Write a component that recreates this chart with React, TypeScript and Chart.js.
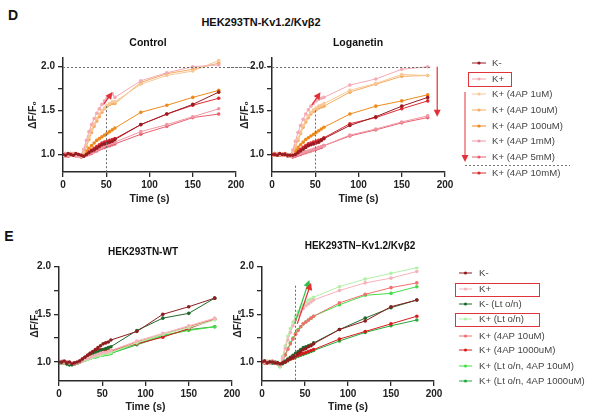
import React, { useEffect, useRef } from "react";
import { Chart, registerables } from "chart.js";
Chart.register(...registerables);

const FONT = '"Liberation Sans", Arial, Helvetica, sans-serif';

// shared time points (s)
const T = [0, 3, 6, 9, 12, 15, 18, 21, 24, 27, 30, 33, 36, 39, 42, 45, 48, 51, 54, 57, 60, 90, 120, 150, 180];
const X_TICKS = [0, 50, 100, 150, 200];
const Y_TICKS = [1.0, 1.25, 1.5, 1.75, 2.0];
const Y_LABELED = [1.0, 1.5, 2.0];

// ---------- Panel D ----------
const D_LABELS = ["K-", "K+", "K+ (4AP 1uM)", "K+ (4AP 10uM)", "K+ (4AP 100uM)", "K+ (4AP 1mM)", "K+ (4AP 5mM)", "K+ (4AP 10mM)"];
const D_COLORS = ["#9b1b22", "#f3aab3", "#f8c896", "#f5ab62", "#ee8a1a", "#ef97a4", "#e8606e", "#dc2a34"];

const CTRL_KM = [1.00, 0.99, 1.01, 1.00, 0.99, 1.01, 1.00, 0.99, 0.98, 1.00, 1.02, 1.04, 1.05, 1.07, 1.09, 1.11, 1.12, 1.13, 1.14, 1.15, 1.17, 1.34, 1.46, 1.57, 1.71];
const CTRL_KP = [1.00, 1.01, 0.99, 1.00, 1.01, 0.99, 0.98, 0.99, 1.06, 1.16, 1.26, 1.34, 1.41, 1.47, 1.52, 1.57, 1.61, 1.64, 1.67, 1.69, 1.65, 1.84, 1.93, 2.00, 2.02];
const CTRL_1U = [0.99, 1.00, 1.01, 0.99, 1.00, 1.00, 0.99, 0.98, 1.03, 1.11, 1.20, 1.28, 1.35, 1.41, 1.46, 1.50, 1.53, 1.56, 1.58, 1.60, 1.60, 1.80, 1.90, 1.95, 2.07];
const CTRL_10U = [1.00, 0.99, 1.00, 1.01, 0.99, 1.00, 1.00, 0.99, 1.02, 1.09, 1.17, 1.25, 1.32, 1.38, 1.43, 1.48, 1.52, 1.55, 1.57, 1.58, 1.58, 1.82, 1.92, 1.97, 2.04];
const CTRL_100U = [1.00, 1.00, 0.99, 1.01, 1.00, 0.99, 1.00, 0.99, 1.01, 1.04, 1.07, 1.10, 1.13, 1.16, 1.18, 1.20, 1.22, 1.24, 1.26, 1.28, 1.30, 1.48, 1.56, 1.65, 1.73];
const CTRL_1M = [1.00, 0.98, 1.00, 1.01, 0.99, 0.98, 0.99, 0.98, 0.98, 0.99, 1.00, 1.02, 1.04, 1.05, 1.07, 1.08, 1.10, 1.11, 1.12, 1.13, 1.14, 1.26, 1.34, 1.43, 1.52];
const CTRL_5M = [0.99, 1.00, 0.98, 0.99, 1.00, 0.99, 0.98, 0.97, 0.98, 0.99, 1.00, 1.01, 1.03, 1.04, 1.06, 1.07, 1.08, 1.09, 1.10, 1.11, 1.12, 1.23, 1.32, 1.42, 1.46];
const CTRL_10M = [1.00, 1.01, 0.99, 1.00, 1.01, 1.00, 0.99, 0.98, 0.99, 1.01, 1.03, 1.05, 1.07, 1.09, 1.11, 1.13, 1.14, 1.15, 1.16, 1.17, 1.18, 1.34, 1.46, 1.56, 1.64];

const LOG_KM = [1.00, 1.00, 0.99, 1.01, 1.00, 1.00, 0.99, 0.99, 0.99, 1.00, 1.02, 1.04, 1.06, 1.08, 1.10, 1.11, 1.12, 1.13, 1.14, 1.16, 1.18, 1.33, 1.43, 1.55, 1.65];
const LOG_KP = [1.00, 0.99, 1.01, 1.00, 1.00, 0.99, 0.99, 0.98, 1.05, 1.15, 1.25, 1.33, 1.40, 1.46, 1.51, 1.55, 1.58, 1.61, 1.63, 1.64, 1.65, 1.79, 1.86, 1.97, 2.00];
const LOG_1U = [1.00, 1.00, 1.00, 1.01, 0.99, 1.00, 0.99, 0.98, 1.02, 1.10, 1.18, 1.26, 1.33, 1.39, 1.44, 1.48, 1.51, 1.53, 1.55, 1.56, 1.58, 1.73, 1.81, 1.91, 1.90];
const LOG_10U = [0.99, 1.00, 1.01, 1.00, 1.00, 0.99, 1.00, 0.98, 1.01, 1.08, 1.16, 1.24, 1.31, 1.37, 1.42, 1.46, 1.49, 1.51, 1.53, 1.54, 1.55, 1.71, 1.80, 1.89, 1.90];
const LOG_100U = [1.00, 1.01, 1.00, 0.99, 1.00, 1.00, 0.99, 0.98, 1.01, 1.04, 1.08, 1.11, 1.14, 1.17, 1.19, 1.21, 1.23, 1.25, 1.27, 1.29, 1.31, 1.46, 1.55, 1.61, 1.68];
const LOG_1M = [1.00, 0.99, 1.00, 1.00, 0.99, 1.00, 0.99, 0.98, 0.98, 0.99, 1.00, 1.01, 1.02, 1.03, 1.04, 1.05, 1.06, 1.07, 1.08, 1.09, 1.10, 1.22, 1.29, 1.37, 1.44];
const LOG_5M = [0.99, 1.00, 1.00, 0.99, 1.00, 0.99, 0.98, 0.98, 0.97, 0.98, 0.99, 1.00, 1.01, 1.02, 1.03, 1.04, 1.05, 1.06, 1.07, 1.08, 1.10, 1.21, 1.28, 1.36, 1.42];
const LOG_10M = [1.00, 1.01, 1.00, 1.00, 1.00, 1.01, 0.99, 0.99, 1.00, 1.02, 1.04, 1.06, 1.08, 1.10, 1.12, 1.13, 1.14, 1.15, 1.16, 1.17, 1.19, 1.35, 1.42, 1.52, 1.61];

// ---------- Panel E ----------
const E_LABELS = ["K-", "K+", "K- (Lt o/n)", "K+ (Lt o/n)", "K+ (4AP 10uM)", "K+ (4AP 1000uM)", "K+ (Lt o/n, 4AP 10uM)", "K+ (Lt o/n, 4AP 1000uM)"];
const E_COLORS = ["#8e1d20", "#f5b3ba", "#1f6a2b", "#b2f0a8", "#f07070", "#d61e1e", "#45dd45", "#28a83c"];

const WT_KM = [1.00, 1.00, 1.01, 0.99, 1.00, 0.98, 0.99, 1.00, 1.01, 1.03, 1.05, 1.07, 1.09, 1.11, 1.13, 1.15, 1.17, 1.19, 1.20, 1.21, 1.23, 1.32, 1.50, 1.58, 1.67];
const WT_KP = [1.00, 1.01, 1.00, 1.00, 0.99, 0.99, 0.98, 0.99, 1.00, 1.01, 1.03, 1.04, 1.05, 1.06, 1.07, 1.08, 1.09, 1.10, 1.10, 1.11, 1.12, 1.22, 1.30, 1.38, 1.46];
const WT_KM_LT = [0.99, 1.00, 1.00, 0.98, 0.97, 0.97, 0.98, 0.99, 1.00, 1.02, 1.04, 1.06, 1.08, 1.09, 1.10, 1.11, 1.12, 1.13, 1.14, 1.15, 1.16, 1.33, 1.46, 1.51, 1.67];
const WT_KP_LT = [1.00, 1.00, 0.99, 0.99, 0.98, 0.98, 0.99, 0.99, 1.00, 1.01, 1.02, 1.03, 1.04, 1.05, 1.06, 1.07, 1.07, 1.08, 1.09, 1.09, 1.10, 1.20, 1.29, 1.36, 1.44];
const WT_10U = [1.00, 0.99, 1.00, 1.00, 0.99, 0.98, 0.98, 0.99, 1.00, 1.02, 1.03, 1.04, 1.05, 1.06, 1.07, 1.08, 1.09, 1.10, 1.10, 1.11, 1.11, 1.21, 1.29, 1.37, 1.45];
const WT_1000U = [1.00, 1.00, 0.99, 1.00, 0.98, 0.98, 0.99, 0.99, 1.01, 1.03, 1.05, 1.07, 1.09, 1.10, 1.11, 1.12, 1.13, 1.13, 1.12, 1.12, 1.12, 1.19, 1.26, 1.35, 1.45];
const WT_LT_10U = [0.99, 1.00, 0.99, 0.98, 0.97, 0.97, 0.98, 0.99, 1.00, 1.01, 1.02, 1.03, 1.04, 1.05, 1.05, 1.06, 1.07, 1.07, 1.08, 1.08, 1.09, 1.19, 1.28, 1.33, 1.37];
const WT_LT_1000U = [1.00, 0.99, 0.99, 0.98, 0.97, 0.98, 0.98, 0.99, 1.00, 1.01, 1.02, 1.03, 1.04, 1.05, 1.06, 1.07, 1.07, 1.08, 1.08, 1.09, 1.09, 1.18, 1.27, 1.34, 1.37];

const KV_KM = [1.00, 1.01, 0.99, 1.00, 1.00, 0.99, 0.99, 0.98, 0.99, 1.00, 1.02, 1.04, 1.05, 1.07, 1.09, 1.11, 1.13, 1.14, 1.16, 1.17, 1.19, 1.34, 1.43, 1.58, 1.65];
const KV_KP = [1.00, 1.00, 1.01, 0.99, 1.00, 1.00, 0.99, 0.96, 1.04, 1.14, 1.23, 1.31, 1.38, 1.44, 1.49, 1.53, 1.56, 1.59, 1.61, 1.63, 1.65, 1.75, 1.83, 1.88, 1.95];
const KV_KM_LT = [1.00, 1.01, 1.00, 1.00, 0.99, 1.00, 0.99, 0.97, 0.99, 1.01, 1.03, 1.05, 1.07, 1.09, 1.11, 1.13, 1.15, 1.16, 1.17, 1.18, 1.20, 1.34, 1.46, 1.57, 1.65];
const KV_KP_LT = [0.99, 1.00, 1.00, 1.01, 1.00, 0.99, 1.00, 0.95, 1.06, 1.17, 1.27, 1.35, 1.42, 1.48, 1.53, 1.57, 1.60, 1.63, 1.65, 1.66, 1.68, 1.79, 1.87, 1.93, 1.99];
const KV_10U = [1.00, 1.00, 0.99, 1.00, 1.01, 1.00, 0.99, 0.96, 1.01, 1.07, 1.13, 1.19, 1.24, 1.29, 1.33, 1.37, 1.40, 1.42, 1.44, 1.46, 1.48, 1.62, 1.71, 1.78, 1.83];
const KV_1000U = [1.00, 0.99, 1.00, 1.00, 1.00, 0.99, 0.99, 0.97, 0.99, 1.00, 1.02, 1.03, 1.04, 1.06, 1.07, 1.08, 1.09, 1.10, 1.11, 1.12, 1.13, 1.24, 1.32, 1.40, 1.48];
const KV_LT_10U = [1.00, 1.00, 1.00, 0.99, 1.00, 1.00, 0.99, 0.95, 1.02, 1.08, 1.14, 1.20, 1.25, 1.30, 1.34, 1.37, 1.40, 1.42, 1.44, 1.46, 1.48, 1.60, 1.70, 1.72, 1.79];
const KV_LT_1000U = [0.99, 1.00, 1.00, 1.00, 0.99, 1.00, 0.98, 0.96, 0.98, 1.00, 1.01, 1.03, 1.04, 1.05, 1.06, 1.07, 1.08, 1.09, 1.10, 1.11, 1.12, 1.22, 1.31, 1.38, 1.44];

type HLine = { y: number; x0: number; x1: number; color: string };
type VLine = { x: number; y0: number; y1: number; color: string };
type Arrow = { x0: number; y0: number; x1: number; y1: number; color: string };
type Annot = { hlines: HLine[]; vlines: VLine[]; arrows: Arrow[] };

type PanelSpec = {
  left: number; top: number; width: number; height: number;
  padTop: number; padRight: number;
  yWidth: number; xHeight: number;
  yMin: number; yMax: number;
  yTitlePad: number; xTitlePad: number;
  series: number[][];
  colors: string[];
  labels: string[];
  annot: Annot;
};

function makeAnnotPlugin(a: Annot) {
  return {
    id: "annot",
    afterDatasetsDraw(chart: any) {
      const { ctx } = chart;
      const xs = chart.scales.x;
      const ys = chart.scales.y;
      ctx.save();
      ctx.lineWidth = 1;
      ctx.setLineDash([2, 2]);
      for (const h of a.hlines) {
        ctx.strokeStyle = h.color;
        ctx.beginPath();
        const py = Math.round(ys.getPixelForValue(h.y)) + 0.5;
        ctx.moveTo(xs.getPixelForValue(h.x0), py);
        ctx.lineTo(xs.getPixelForValue(h.x1), py);
        ctx.stroke();
      }
      for (const v of a.vlines) {
        ctx.strokeStyle = v.color;
        ctx.beginPath();
        const px = Math.round(xs.getPixelForValue(v.x)) + 0.5;
        ctx.moveTo(px, ys.getPixelForValue(v.y0));
        ctx.lineTo(px, ys.getPixelForValue(v.y1));
        ctx.stroke();
      }
      ctx.setLineDash([]);
      for (const ar of a.arrows) {
        const x0 = xs.getPixelForValue(ar.x0), y0 = ys.getPixelForValue(ar.y0);
        const x1 = xs.getPixelForValue(ar.x1), y1 = ys.getPixelForValue(ar.y1);
        const ang = Math.atan2(y1 - y0, x1 - x0);
        const L = 7, W = 3.5;
        ctx.strokeStyle = ar.color;
        ctx.fillStyle = ar.color;
        ctx.lineWidth = 1.2;
        ctx.beginPath();
        ctx.moveTo(x0, y0);
        ctx.lineTo(x1 - Math.cos(ang) * L * 0.8, y1 - Math.sin(ang) * L * 0.8);
        ctx.stroke();
        ctx.beginPath();
        ctx.moveTo(x1, y1);
        ctx.lineTo(x1 - Math.cos(ang) * L - Math.sin(ang) * W, y1 - Math.sin(ang) * L + Math.cos(ang) * W);
        ctx.lineTo(x1 - Math.cos(ang) * L + Math.sin(ang) * W, y1 - Math.sin(ang) * L - Math.cos(ang) * W);
        ctx.closePath();
        ctx.fill();
      }
      ctx.restore();
    },
  };
}

function buildConfig(p: PanelSpec): any {
  const datasets = p.series.map((s, i) => ({
    label: p.labels[i],
    data: T.map((t, j) => ({ x: t, y: s[j] })),
    borderColor: p.colors[i],
    backgroundColor: p.colors[i],
    borderWidth: 1,
    pointRadius: 1.8,
    pointBorderWidth: 0,
    pointHoverRadius: 0,
    tension: 0,
  }));
  const axisColor = "#2a2a2a";
  const tickFont = { family: FONT, size: 10, weight: "bold" };
  const titleFont = { family: FONT, size: 10.5, weight: "bold" };
  return {
    type: "line",
    data: { datasets },
    options: {
      animation: false,
      responsive: false,
      maintainAspectRatio: false,
      events: [],
      layout: { padding: { top: p.padTop, right: p.padRight, left: 0, bottom: 0 } },
      plugins: { legend: { display: false }, tooltip: { enabled: false }, title: { display: false } },
      scales: {
        x: {
          type: "linear",
          min: 0,
          max: 200,
          afterBuildTicks: (ax: any) => { ax.ticks = X_TICKS.map((v) => ({ value: v })); },
          afterFit: (ax: any) => { ax.height = p.xHeight; },
          grid: { drawOnChartArea: false, drawTicks: true, tickLength: 5, color: axisColor, lineWidth: 1.3 },
          border: { display: true, color: axisColor, width: 1.5 },
          ticks: { color: "#222", font: tickFont, padding: 2, maxRotation: 0, autoSkip: false },
          title: { display: true, text: "Time (s)", color: "#222", font: titleFont, padding: { top: 0, bottom: p.xTitlePad } },
        },
        y: {
          type: "linear",
          min: p.yMin,
          max: p.yMax,
          afterBuildTicks: (ax: any) => { ax.ticks = Y_TICKS.map((v) => ({ value: v })); },
          afterFit: (ax: any) => { ax.width = p.yWidth; },
          grid: { drawOnChartArea: false, drawTicks: true, tickLength: 5, color: axisColor, lineWidth: 1.3 },
          border: { display: true, color: axisColor, width: 1.5 },
          ticks: {
            color: "#222",
            font: tickFont,
            padding: 3,
            autoSkip: false,
            callback: (v: any) => (Y_LABELED.some((l) => Math.abs(l - v) < 1e-6) ? Number(v).toFixed(1) : ""),
          },
          title: { display: true, text: "ΔF/F₀", color: "#222", font: titleFont, padding: { top: p.yTitlePad, bottom: 0 } },
        },
      },
    },
    plugins: [makeAnnotPlugin(p.annot)],
  };
}

function Panel({ spec }: { spec: PanelSpec }) {
  const ref = useRef<HTMLCanvasElement>(null);
  useEffect(() => {
    const chart = new Chart(ref.current as HTMLCanvasElement, buildConfig(spec));
    return () => chart.destroy();
  }, []);
  return (
    <canvas
      ref={ref}
      width={spec.width}
      height={spec.height}
      style={{ position: "absolute", left: spec.left, top: spec.top, width: spec.width, height: spec.height }}
    />
  );
}

const GRAY = "#6a6a6a";

const CONTROL: PanelSpec = {
  left: 18, top: 46, width: 232, height: 166, padTop: 11.9, padRight: 14, yWidth: 45, xHeight: 40,
  yMin: 0.8, yMax: 2.1, yTitlePad: 9, xTitlePad: 7,
  series: [CTRL_KM, CTRL_KP, CTRL_1U, CTRL_10U, CTRL_100U, CTRL_1M, CTRL_5M, CTRL_10M],
  colors: D_COLORS, labels: D_LABELS,
  annot: {
    hlines: [{ y: 2.0, x0: 0, x1: 260, color: GRAY }],
    vlines: [{ x: 50, y0: 1.55, y1: 0.8, color: GRAY }],
    arrows: [{ x0: 47, y0: 1.57, x1: 57, y1: 1.71, color: "#e0303a" }],
  },
};

const LOGANETIN: PanelSpec = {
  left: 227, top: 46, width: 232, height: 166, padTop: 11.9, padRight: 14, yWidth: 45, xHeight: 40,
  yMin: 0.8, yMax: 2.1, yTitlePad: 12, xTitlePad: 7,
  series: [LOG_KM, LOG_KP, LOG_1U, LOG_10U, LOG_100U, LOG_1M, LOG_5M, LOG_10M],
  colors: D_COLORS, labels: D_LABELS,
  annot: {
    hlines: [{ y: 2.0, x0: -60, x1: 183, color: GRAY }],
    vlines: [{ x: 50, y0: 1.5, y1: 0.8, color: GRAY }],
    arrows: [
      { x0: 46, y0: 1.56, x1: 56, y1: 1.71, color: "#e0303a" },
      { x0: 191, y0: 2.0, x1: 191, y1: 1.43, color: "#e0303a" },
    ],
  },
};

const WT: PanelSpec = {
  left: 14, top: 255, width: 232, height: 163, padTop: 11.7, padRight: 14, yWidth: 45, xHeight: 37,
  yMin: 0.8, yMax: 2.0, yTitlePad: 15, xTitlePad: 5,
  series: [WT_KM, WT_KP, WT_KM_LT, WT_KP_LT, WT_10U, WT_1000U, WT_LT_10U, WT_LT_1000U],
  colors: E_COLORS, labels: E_LABELS,
  annot: { hlines: [], vlines: [], arrows: [] },
};

const KV: PanelSpec = {
  left: 217, top: 255, width: 231, height: 163, padTop: 11.7, padRight: 14, yWidth: 45, xHeight: 37,
  yMin: 0.8, yMax: 2.0, yTitlePad: 15, xTitlePad: 5,
  series: [KV_KM, KV_KP, KV_KM_LT, KV_KP_LT, KV_10U, KV_1000U, KV_LT_10U, KV_LT_1000U],
  colors: E_COLORS, labels: E_LABELS,
  annot: {
    hlines: [],
    vlines: [{ x: 38, y0: 1.8, y1: 0.8, color: GRAY }],
    arrows: [
      { x0: 38, y0: 1.40, x1: 55, y1: 1.86, color: "#2fbf4a" },
      { x0: 41, y0: 1.40, x1: 57, y1: 1.83, color: "#e53030" },
    ],
  },
};

function Txt({ x, y, text, size, bold, color }: { x: number; y: number; text: string; size: number; bold?: boolean; color?: string }) {
  return (
    <div
      style={{
        position: "absolute", left: x, top: y, transform: "translate(-50%, -50%)", whiteSpace: "nowrap",
        fontFamily: FONT, fontSize: size, fontWeight: bold ? "bold" : "normal", color: color || "#111", lineHeight: 1,
      }}
    >
      {text}
    </div>
  );
}

function Legend({ labels, colors, rows, mx0, mx1, tx }: { labels: string[]; colors: string[]; rows: number[]; mx0: number; mx1: number; tx: number }) {
  return (
    <>
      <svg width={596} height={419} style={{ position: "absolute", left: 0, top: 0, pointerEvents: "none" }}>
        {labels.map((l, i) => (
          <g key={l}>
            <line x1={mx0} x2={mx1} y1={rows[i]} y2={rows[i]} stroke={colors[i]} strokeWidth={1} />
            <circle cx={(mx0 + mx1) / 2} cy={rows[i]} r={1.6} fill={colors[i]} />
          </g>
        ))}
      </svg>
      {labels.map((l, i) => (
        <div
          key={l}
          style={{
            position: "absolute", left: tx, top: rows[i], transform: "translateY(-50%)", whiteSpace: "nowrap",
            fontFamily: FONT, fontSize: 9.6, color: "#444", lineHeight: 1,
          }}
        >
          {l}
        </div>
      ))}
    </>
  );
}

export default function App() {
  const box = (l: number, t: number, w: number, h: number) => (
    <div style={{ position: "absolute", left: l, top: t, width: w, height: h, border: "1.5px solid #e0343c", boxSizing: "border-box" }} />
  );
  return (
    <div style={{ position: "absolute", left: 0, top: 0, width: 596, height: 419, background: "#fff", overflow: "hidden" }}>
      <Panel spec={CONTROL} />
      <Panel spec={LOGANETIN} />
      <Panel spec={WT} />
      <Panel spec={KV} />

      <Txt x={13} y={15} text="D" size={14} bold />
      <Txt x={261} y={22} text="HEK293TN-Kv1.2/Kvβ2" size={11} bold />
      <Txt x={148} y={42} text="Control" size={10.5} bold />
      <Txt x={358} y={42} text="Loganetin" size={10.5} bold />
      <Txt x={9} y={236} text="E" size={14} bold />
      <Txt x={143} y={252} text="HEK293TN-WT" size={10} bold />
      <Txt x={360} y={246} text="HEK293TN–Kv1.2/Kvβ2" size={10} bold />

      <Legend labels={D_LABELS} colors={D_COLORS} rows={[63, 79, 94, 110, 126, 141, 157, 173]} mx0={472} mx1={486} tx={492} />
      <Legend labels={E_LABELS} colors={E_COLORS} rows={[273, 289, 304, 319, 336, 350, 366, 381]} mx0={459} mx1={472} tx={479} />

      {box(468, 72, 44, 15)}
      {box(455, 283, 85, 14)}
      {box(455, 313, 85, 14)}

      <svg width={596} height={419} style={{ position: "absolute", left: 0, top: 0, pointerEvents: "none" }}>
        <line x1={465} x2={465} y1={92} y2={156} stroke="#e0343c" strokeWidth={1} />
        <polygon points="461.5,155 468.5,155 465,162" fill="#e0343c" />
        <line x1={465} x2={570} y1={165.5} y2={165.5} stroke="#777" strokeWidth={1} strokeDasharray="2,2" />
      </svg>
    </div>
  );
}
